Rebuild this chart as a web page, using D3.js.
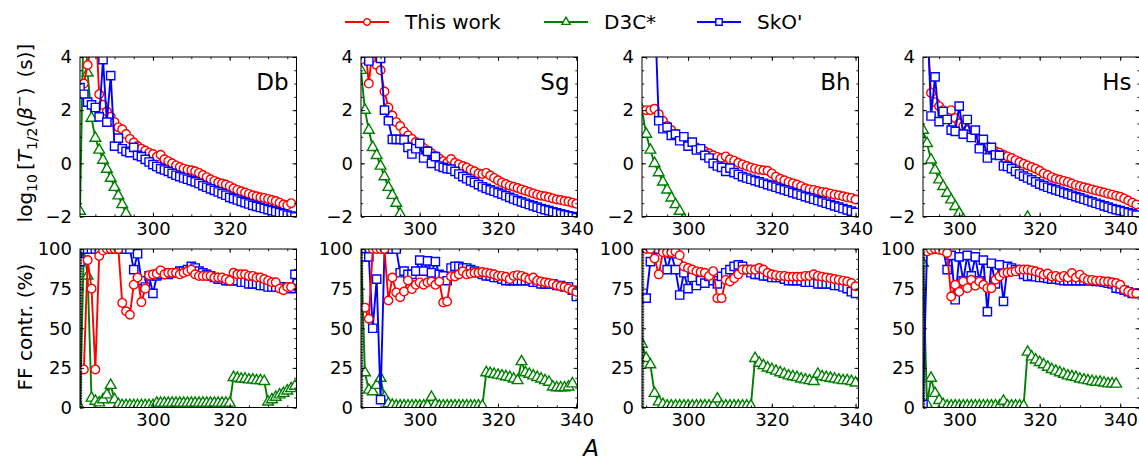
<!DOCTYPE html>
<html>
<head>
<meta charset="utf-8">
<script src="https://cdn.jsdelivr.net/npm/d3@7"></script>
<style>
  body { margin: 0; background: #fff; }
  svg { display: block; }
  text { font-family: "DejaVu Sans", sans-serif; fill: #000; }
</style>
</head>
<body>
<svg id="chart" width="1139" height="467"></svg>
<script>
// ---------------- data ----------------
const elements = ["Db", "Sg", "Bh", "Hs"];
const xDomains = [[281, 337.4], [285, 340.3], [289, 340.7], [291, 344.8]];
const seriesNames = ["This work", "D3C*", "SkO'"];
const seriesColors = ["#ff0000", "#008000", "#0000ff"];
const halfLifeTicks = [-2, 0, 2, 4];
const ffTicks = [0, 25, 50, 75, 100];
const massTicks = [300, 320, 340];

// log10 T1/2 (s); each list runs over consecutive mass numbers from its start value
const dbHalfThisA0 = 282;
const dbHalfThis = [3.0, 3.7, 4.6, 5.5, 2.6, 2.2, 1.95, 1.75, 1.55, 1.36, 1.28, 1.1, 0.92, 0.78, 0.65, 0.55, 0.48, 0.4, 0.35, 0.25, 0.32, 0.15, 0.08, 0.0, -0.08, -0.14, -0.2, -0.24, -0.26, -0.3, -0.36, -0.44, -0.52, -0.6, -0.66, -0.72, -0.76, -0.8, -0.86, -0.94, -1.0, -1.05, -1.1, -1.15, -1.2, -1.24, -1.28, -1.3, -1.34, -1.38, -1.42, -1.48, -1.55, -1.58, -1.5];
const dbHalfD3cA0 = 281;
const dbHalfD3c = [-1.8, 6, 3.4, 1.7, 0.95, 0.5, 0.12, -0.22, -0.56, -0.9, -1.22, -1.55, -1.88, -2.25];
const dbHalfSkoA0 = 281;
const dbHalfSko = [2.85, 2.6, 2.3, 2.2, 2.1, 1.75, 3.9, 1.55, 3.3, 0.65, 0.95, 0.55, 0.45, 0.4, 0.6, 0.3, 0.25, 0.15, 0.05, -0.05, -0.12, -0.2, -0.25, -0.3, -0.38, -0.45, -0.5, -0.55, -0.6, -0.65, -0.7, -0.76, -0.84, -0.9, -0.96, -1.02, -1.08, -1.14, -1.2, -1.28, -1.33, -1.38, -1.43, -1.48, -1.53, -1.58, -1.62, -1.66, -1.7, -1.74, -1.78, -1.82, -1.86, -1.9, -1.95, -1.98, -2.02];

const sgHalfThisA0 = 285;
const sgHalfThis = [3.9, 4.5, 3.0, 4.4, 3.7, 3.5, 2.7, 2.1, 1.8, 1.55, 1.4, 1.2, 1.05, 0.92, 0.8, 0.7, 0.58, 0.48, 0.38, 0.28, 0.18, 0.08, 0.02, 0.16, 0.02, -0.04, -0.1, -0.16, -0.24, -0.3, -0.38, -0.4, -0.36, -0.46, -0.55, -0.64, -0.72, -0.78, -0.84, -0.88, -0.93, -0.98, -1.03, -1.08, -1.13, -1.18, -1.22, -1.24, -1.28, -1.32, -1.36, -1.38, -1.42, -1.44, -1.48, -1.52];
const sgHalfD3cA0 = 285;
const sgHalfD3c = [3.5, 2.0, 1.25, 0.6, 0.3, -0.1, -0.5, -0.9, -1.2, -1.5, -1.9, -2.3];
const sgHalfSkoA0 = 285;
const sgHalfSko = [4.6, 4.6, 3.85, 4.6, 4.6, 3.95, 2.0, 1.6, 0.9, 0.9, 0.9, 0.88, 0.6, 0.35, 0.55, 0.75, 0.2, 0.45, 0.0, 0.25, -0.1, -0.15, -0.2, -0.22, -0.3, -0.4, -0.5, -0.58, -0.66, -0.72, -0.8, -0.88, -0.94, -1.0, -1.05, -1.1, -1.16, -1.22, -1.28, -1.34, -1.4, -1.45, -1.5, -1.55, -1.6, -1.65, -1.7, -1.74, -1.78, -1.82, -1.86, -1.9, -1.94, -1.97, -2.0, -2.04];

const bhHalfThisA0 = 290;
const bhHalfThis = [2.0, 2.0, 2.05, 1.85, 1.6, 1.4, 1.25, 1.1, 0.95, 0.85, 0.78, 0.7, 0.6, 0.5, 0.45, 0.38, 0.3, 0.24, 0.2, 0.26, 0.15, 0.1, 0.02, -0.04, -0.1, -0.16, -0.2, -0.24, -0.26, -0.28, -0.38, -0.5, -0.58, -0.64, -0.7, -0.75, -0.8, -0.86, -0.94, -0.98, -1.0, -1.04, -1.08, -1.1, -1.14, -1.18, -1.2, -1.24, -1.28, -1.3, -1.36];
const bhHalfD3cA0 = 289;
const bhHalfD3c = [2.0, 1.1, 0.5, 0.0, -0.35, -0.7, -1.0, -1.3, -1.55, -1.8, -2.1];
const bhHalfSkoA0 = 292;
const bhHalfSko = [6, 1.6, 1.3, 1.35, 1.05, 1.1, 0.85, 1.0, 0.65, 0.8, 0.5, 0.55, 0.3, 0.2, 0.0, -0.1, -0.15, -0.3, -0.18, -0.35, -0.42, -0.5, -0.55, -0.6, -0.65, -0.7, -0.75, -0.8, -0.85, -0.9, -0.95, -1.0, -1.05, -1.1, -1.15, -1.2, -1.25, -1.3, -1.35, -1.4, -1.45, -1.5, -1.55, -1.6, -1.65, -1.7, -1.75, -1.8, -1.85];

const hsHalfThisA0 = 291;
const hsHalfThis = [6, 5, 2.65, 2.3, 2.15, 2.0, 1.9, 2.0, 1.7, 1.5, 1.4, 1.25, 1.1, 1.0, 0.88, 0.75, 0.62, 0.52, 0.45, 0.4, 0.32, 0.26, 0.2, 0.12, 0.05, -0.02, -0.08, -0.14, -0.2, -0.28, -0.38, -0.44, -0.52, -0.58, -0.62, -0.66, -0.7, -0.76, -0.82, -0.86, -0.9, -0.94, -0.98, -1.02, -1.06, -1.1, -1.14, -1.18, -1.22, -1.26, -1.32, -1.4, -1.48, -1.55];
const hsHalfD3cA0 = 291;
const hsHalfD3c = [1.25, 0.75, 0.13, -0.25, -0.62, -0.87, -1.12, -1.37, -1.62, -1.87, -2.12, null, null, null, null, null, null, null, null, null, null, null, null, null, null, -2.6, -2.02, -2.3];
const hsHalfSkoA0 = 291;
const hsHalfSko = [6, 6, 1.78, 3.25, 1.57, 1.95, 1.65, 1.25, 1.2, 2.15, 1.1, 1.65, 0.97, 1.25, 0.55, 0.9, 0.2, 0.6, 0.32, 0.3, -0.1, -0.12, -0.2, -0.3, -0.4, -0.48, -0.55, -0.62, -0.7, -0.78, -0.84, -0.9, -0.95, -1.0, -1.05, -1.1, -1.15, -1.2, -1.25, -1.3, -1.35, -1.4, -1.45, -1.5, -1.55, -1.6, -1.65, -1.7, -1.74, -1.78, -1.82, -1.86, -1.9, -1.95];

// first-forbidden contribution (%)
const dbFfThisA0 = 282;
const dbFfThis = [24, 93, 75, 24, 95.6, 99, 100, 100, 100, 100, 66, 60.7, 58.5, 77.5, 82, 66.5, 75, 83.5, 84, 84.5, 86.5, 84, 85, 85, 85, 84, 85, 86, 87, 84, 83, 83, 83, 83, 82, 82, 82, 81, 80, 85, 84, 84, 84, 83, 83, 82, 82, 81, 80, 79, 79, 75, 74, 76, 76];
const dbFfD3cA0 = 281;
const dbFfD3c = [0, 100, 83, 6, 4, 3, 5, 8, 14, 5, 2, 1.3, 1.3, 1.3, 1.3, 1.3, 1.3, 1.3, 1.3, 1.3, 2.8, 2.8, 2.8, 2.8, 2.8, 2.8, 2.8, 2.8, 2.8, 2.8, 2.8, 2.8, 2.8, 2.8, 2.8, 2.8, 2.8, 2.8, 2.8, 2.8, 19, 18.5, 18, 18, 17.5, 17.5, 17, 17, 16.5, 3.5, 5, 6.5, 8, 9, 10.5, 12, 13.5];
const dbFfSkoA0 = 281;
const dbFfSko = [92, 100, 100, 100, 100, 100, 100, 100, 100, 100, 100, 100, 100, 100, 87, 97, 80, 76, 83, 72, 83, 84, 85, 84, 85, 85, 86, 86, 87, 89, 88, 86, 85, 84, 83, 82, 81, 81, 80, 80, 80, 80, 79, 79, 78, 78, 78, 77, 77, 76, 76, 76, 76, 76, 76, 75, 84];

const sgFfThisA0 = 286;
const sgFfThis = [63, 56, 100, 100, 100, 100, 67.5, 82, 72.6, 69.6, 73.2, 80.2, 74.7, 77.4, 78.9, 77.5, 79, 79.5, 77.4, 79.5, 66.2, 66.9, 82.7, 82.7, 84, 85.9, 84, 84.5, 85, 85, 85.5, 85, 84.5, 84, 83, 83, 82.5, 81, 83, 83.5, 83, 82, 81, 82, 80, 79.5, 79, 78.5, 78, 77, 76.5, 76, 75, 74, 73];
const sgFfD3cA0 = 285;
const sgFfD3c = [100, 22, 11, 10, 14, 18.5, 6.5, 2.5, 1.5, 1, 1, 1, 1, 1, 1, 1, 1, 1, 6.5, 2, 1, 1, 1, 1, 1, 1, 1, 1, 1, 1, 1, 1, 22, 21.5, 21, 20.5, 20, 19.5, 19, 18, 17, 29, 22, 21, 20, 19, 18, 17, 16, 13, 12.5, 12.5, 12.5, 13, 15];
const sgFfSkoA0 = 285;
const sgFfSko = [100, 95, 95, 50, 81, 5, 100, 100, 100, 100, 85, 86, 84, 84, 86, 93, 86, 92.5, 85, 92, 84, 83, 80, 88, 89, 89, 88, 88, 87, 86, 85, 84, 83, 83, 82, 82, 81, 80, 80, 80, 80, 80, 80, 80, 79, 79, 78, 78, 78, 78, 77, 77, 76, 76, 74, 70];

const bhFfThisA0 = 290;
const bhFfThis = [100, 100, 94, 84, 98, 98, 98, 98.5, 96, 89, 88, 87, 86, 85.5, 85, 83, 86, 69, 69, 80.5, 79.5, 81.5, 84, 87, 87, 87, 87, 88, 87, 85, 84, 83.5, 83, 83, 82.5, 82.5, 82.5, 82.5, 83, 83, 84, 83, 82.5, 82, 81.5, 81, 80.5, 80, 79.5, 78.5, 76.5];
const bhFfD3cA0 = 289;
const bhFfD3c = [40, 31, 27, 9, 3.6, 2, 1, 1, 1, 1, 1, 1, 1, 1, 1, 1, 1, 1, 5.5, 1, 1, 1, 1, 1, 1, 1, 1, 31, 28, 26.5, 25, 24, 23, 22, 21, 20, 19.5, 19, 18, 17.5, 17, 16.5, 21, 19.5, 19, 18.5, 18, 17.5, 17, 17, 16.5, 15.5];
const bhFfSkoA0 = 290;
const bhFfSko = [69, 92, 100, 100, 100, 87, 97, 87, 71, 85, 75, 82, 77, 80, 78.5, 82.7, 80, 78, 82.7, 85, 87, 89, 90, 89, 87, 85, 84, 84, 83, 83, 82, 82, 82, 81, 80, 80, 80, 80, 79, 79, 79, 78, 78, 78, 78, 77, 77, 76, 75, 73, 72];

const hsFfThisA0 = 292;
const hsFfThis = [98.5, 99.5, 100, 99.5, 99, 97.5, 70, 77.4, 73, 79.5, 75.3, 80.6, 76.8, 79.5, 77.4, 75.3, 75.3, 80.6, 82.7, 84.8, 85.2, 85.5, 85.9, 87, 87, 87, 86.5, 85.9, 85, 83.8, 84.5, 82.7, 83, 82, 83, 82, 84.8, 82, 83.8, 81.6, 80.5, 80.5, 80, 80, 79.5, 79.5, 79, 78.5, 77.4, 74.3, 73.2, 72, 72];
const hsFfD3cA0 = 291;
const hsFfD3c = [91, 2, 18.5, 9, 4.5, 2, 1, 1, 1, 1, 1, 1, 1, 1, 1, 1, 1, 1, 1, 1, 4, 1, 1, 1, 1, 1, 35, 32, 30, 28.5, 27, 25.5, 24, 23, 22, 21, 20, 19.5, 19, 18, 17.5, 17, 16.5, 16, 16, 15.5, 15, 15, 14.8];
const hsFfSkoA0 = 291;
const hsFfSko = [2, 100, 100, 100, 100, 100, 87, 96, 68, 95, 80, 96, 83, 95, 80, 93, 60.5, 91, 78, 90, 67, 89, 88, 87, 86, 84, 82.7, 83, 82.5, 82, 82, 81.5, 81, 81, 80.5, 80, 80, 80, 80, 80, 80, 80, 80, 79.5, 79.5, 79, 78.5, 78, 75.3, 75, 74, 73, 72, 72];

// ---------------- assembly ----------------
const toPoints = (a0, vals) => vals.map((v, i) => ({ a: a0 + i, v }));
const halfLife = [
  [toPoints(dbHalfThisA0, dbHalfThis), toPoints(dbHalfD3cA0, dbHalfD3c), toPoints(dbHalfSkoA0, dbHalfSko)],
  [toPoints(sgHalfThisA0, sgHalfThis), toPoints(sgHalfD3cA0, sgHalfD3c), toPoints(sgHalfSkoA0, sgHalfSko)],
  [toPoints(bhHalfThisA0, bhHalfThis), toPoints(bhHalfD3cA0, bhHalfD3c), toPoints(bhHalfSkoA0, bhHalfSko)],
  [toPoints(hsHalfThisA0, hsHalfThis), toPoints(hsHalfD3cA0, hsHalfD3c), toPoints(hsHalfSkoA0, hsHalfSko)]
];
const ffContr = [
  [toPoints(dbFfThisA0, dbFfThis), toPoints(dbFfD3cA0, dbFfD3c), toPoints(dbFfSkoA0, dbFfSko)],
  [toPoints(sgFfThisA0, sgFfThis), toPoints(sgFfD3cA0, sgFfD3c), toPoints(sgFfSkoA0, sgFfSko)],
  [toPoints(bhFfThisA0, bhFfThis), toPoints(bhFfD3cA0, bhFfD3c), toPoints(bhFfSkoA0, bhFfSko)],
  [toPoints(hsFfThisA0, hsFfThis), toPoints(hsFfD3cA0, hsFfD3c), toPoints(hsFfSkoA0, hsFfSko)]
];

// ---------------- layout ----------------
const svg = d3.select("#chart");
const panelLeft = [80, 361, 642, 923];
const panelW = 216.5;
const rows = [
  { top: 57, bottom: 216.5, domain: [-2, 4], major: halfLifeTicks, minorStep: 0.5, leftMinorStep: 0.5, data: halfLife, order: [1, 0, 2] },
  { top: 249, bottom: 407.5, domain: [0, 100], major: ffTicks, minorStep: 6.25, leftMinorStep: 1, data: ffContr, order: [1, 2, 0] }
];
const tickFont = 18;
const majorLen = 4, minorLen = 2.2;

const defs = svg.append("defs");
const symbolFor = [d3.symbolCircle, d3.symbolTriangle, d3.symbolSquare];
const symbolSize = [58, 50, 68];

function drawMarkers(g, pts, s, x, y) {
  const sym = d3.symbol().type(symbolFor[s]).size(symbolSize[s]);
  g.selectAll(null).data(pts).join("path")
    .attr("d", sym)
    .attr("transform", d => `translate(${x(d.a)},${y(d.v)})`)
    .attr("fill", "#fff")
    .attr("stroke", seriesColors[s])
    .attr("stroke-width", 1.4);
}

rows.forEach((row, r) => {
  elements.forEach((el, p) => {
    const x0 = panelLeft[p], x1 = x0 + panelW;
    const x = d3.scaleLinear().domain(xDomains[p]).range([x0, x1]);
    const y = d3.scaleLinear().domain(row.domain).range([row.bottom, row.top]);
    const clipId = `clip-${r}-${p}`;
    defs.append("clipPath").attr("id", clipId)
      .append("rect").attr("x", x0).attr("y", row.top).attr("width", panelW).attr("height", row.bottom - row.top);

    const g = svg.append("g");
    const plot = g.append("g").attr("clip-path", `url(#${clipId})`);

    const line = d3.line().defined(d => d.v !== null).x(d => x(d.a)).y(d => y(d.v));
    row.order.forEach(s => {
      const pts = row.data[p][s];
      plot.append("path").datum(pts)
        .attr("d", line)
        .attr("fill", "none")
        .attr("stroke", seriesColors[s])
        .attr("stroke-width", 1.9)
        .attr("stroke-linejoin", "round");
      drawMarkers(plot.append("g"), pts.filter(d => d.v !== null), s, x, y);
    });

    // minor / major ticks on all four sides, pointing inward
    const xMinor = d3.range(Math.ceil(xDomains[p][0] / 5) * 5, xDomains[p][1] + 0.001, 5);
    const yMinor = d3.range(row.domain[0], row.domain[1] + 0.001, row.minorStep);
    const yMinorLeft = d3.range(row.domain[0], row.domain[1] + 0.001, row.leftMinorStep);
    const xMajor = massTicks.filter(t => t >= xDomains[p][0] && t <= xDomains[p][1]);

    const addAxis = (axis, tx, ty, labels) => {
      const a = g.append("g").attr("transform", `translate(${tx},${ty})`).call(axis);
      a.select(".domain").remove();
      a.selectAll("line").attr("stroke", "#000").attr("stroke-width", 0.9);
      a.selectAll("text").attr("font-size", tickFont).attr("font-family", "DejaVu Sans").attr("fill", "#000");
      if (!labels) a.selectAll("text").remove();
      return a;
    };
    addAxis(d3.axisBottom(x).tickValues(xMinor).tickSize(-minorLen).tickFormat(""), 0, row.bottom, false);
    addAxis(d3.axisTop(x).tickValues(xMinor).tickSize(-minorLen).tickFormat(""), 0, row.top, false);
    addAxis(d3.axisBottom(x).tickValues(xMajor).tickSize(-majorLen).tickPadding(6).tickFormat(d3.format("d")), 0, row.bottom, true);
    addAxis(d3.axisTop(x).tickValues(xMajor).tickSize(-majorLen).tickFormat(""), 0, row.top, false);
    addAxis(d3.axisLeft(y).tickValues(yMinorLeft).tickSize(-minorLen).tickFormat(""), x0, 0, false);
    addAxis(d3.axisRight(y).tickValues(yMinor).tickSize(-minorLen).tickFormat(""), x1, 0, false);
    addAxis(d3.axisLeft(y).tickValues(row.major).tickSize(-majorLen).tickPadding(8)
      .tickFormat(d => d < 0 ? "\u2212" + Math.abs(d) : String(d)), x0, 0, true);
    addAxis(d3.axisRight(y).tickValues(row.major).tickSize(-majorLen).tickFormat(""), x1, 0, false);

    g.append("rect").attr("x", x0).attr("y", row.top)
      .attr("width", panelW).attr("height", row.bottom - row.top)
      .attr("fill", "none").attr("stroke", "#000").attr("stroke-width", 1);

    if (r === 0) {
      g.append("text").attr("x", x1 - 8).attr("y", row.top + 33)
        .attr("text-anchor", "end").attr("font-size", 23).text(el);
    }
  });
});

// axis titles
const yTitle1 = svg.append("text")
  .attr("transform", "translate(32,133) rotate(-90)")
  .attr("text-anchor", "middle").attr("font-size", 20);
yTitle1.append("tspan").text("log");
yTitle1.append("tspan").attr("font-size", 14).attr("dy", 5).text("10");
yTitle1.append("tspan").attr("dy", -5).text("\u2009[");
yTitle1.append("tspan").attr("font-style", "italic").text("T");
yTitle1.append("tspan").attr("font-size", 14).attr("dy", 5).text("1/2");
yTitle1.append("tspan").attr("dy", -5).text("(");
yTitle1.append("tspan").attr("font-style", "italic").text("\u03b2");
yTitle1.append("tspan").attr("font-size", 14).attr("dy", -8).text("\u2212");
yTitle1.append("tspan").attr("dy", 8).text(")\u2002(s)]");

svg.append("text")
  .attr("transform", "translate(32,327) rotate(-90)")
  .attr("text-anchor", "middle").attr("font-size", 20)
  .text("FF contr. (%)");

svg.append("text").attr("x", 591).attr("y", 456)
  .attr("text-anchor", "middle").attr("font-size", 23).attr("font-style", "italic").text("A");

// legend
const legendX = [345, 544, 697];
const legend = svg.append("g");
seriesNames.forEach((name, s) => {
  const lx = legendX[s];
  legend.append("line").attr("x1", lx).attr("x2", lx + 44).attr("y1", 22).attr("y2", 22)
    .attr("stroke", seriesColors[s]).attr("stroke-width", 1.9);
  const sym = d3.symbol().type(symbolFor[s]).size(symbolSize[s] * 0.6);
  legend.append("path").attr("d", sym).attr("transform", `translate(${lx + 22},22)`)
    .attr("fill", "#fff").attr("stroke", seriesColors[s]).attr("stroke-width", 1.4);
  legend.append("text").attr("x", lx + 60).attr("y", 29).attr("font-size", 20).text(name);
});
</script>
</body>
</html>
